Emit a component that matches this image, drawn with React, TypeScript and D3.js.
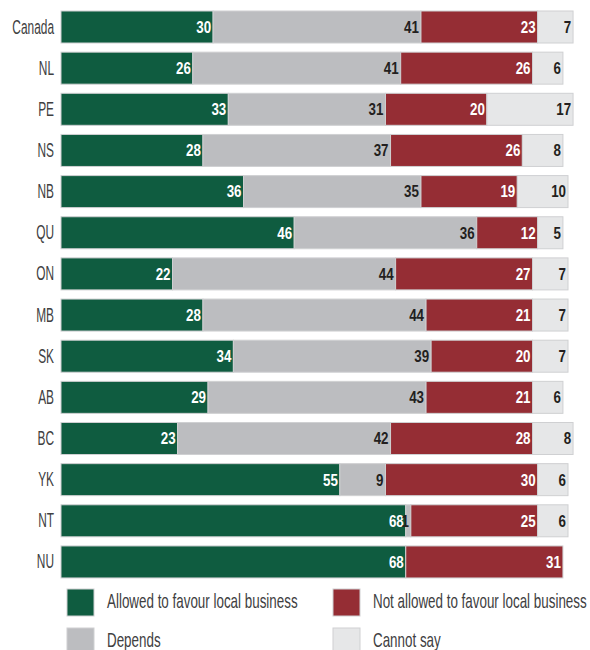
import React, { useEffect } from "react";
import * as d3 from "d3";

const categories = ["Canada", "NL", "PE", "NS", "NB", "QU", "ON", "MB", "SK", "AB", "BC", "YK", "NT", "NU"];
const allowed = [30, 26, 33, 28, 36, 46, 22, 28, 34, 29, 23, 55, 68, 68];
const depends = [41, 41, 31, 37, 35, 36, 44, 44, 39, 43, 42, 9, 1, 0];
const notAllowed = [23, 26, 20, 26, 19, 12, 27, 21, 20, 21, 28, 30, 25, 31];
const cannotSay = [7, 6, 17, 8, 10, 5, 7, 7, 7, 6, 8, 6, 6, 0];
const seriesNames = ["Allowed to favour local business", "Depends", "Not allowed to favour local business", "Cannot say"];

const colors = ["#0f5c40", "#bcbdc0", "#952d34", "#e6e7e8"];
const labelColors = ["#ffffff", "#231f20", "#ffffff", "#231f20"];
const FONT = "'Liberation Sans', Arial, sans-serif";

function T(props: { x: number; y: number; sx: number; size: number; anchor?: string; weight?: string; fill: string; children: React.ReactNode }) {
  return (
    <g transform={`translate(${props.x},${props.y}) scale(${props.sx},1)`}>
      <text x={0} y={0} dy="0.36em" textAnchor={props.anchor || "start"} fontSize={props.size} fontWeight={props.weight || "normal"} fill={props.fill}>
        {props.children}
      </text>
    </g>
  );
}

export default function App() {
  useEffect(() => {
    document.body.style.margin = "0";
  }, []);
  const W = 590, H = 650;
  const x = d3.scaleLinear().domain([0, 100]).range([61, 61 + 507]);
  const step = 41.15;
  const pad = 9.15 / step;
  const r0 = 11 - (pad / 2) * step;
  const y = d3.scaleBand<string>().domain(categories).range([r0, r0 + step * categories.length]).paddingInner(pad).paddingOuter(pad / 2);
  const series = [allowed, depends, notAllowed, cannotSay];
  const rows = categories.map((c, i) => {
    let acc = 0;
    return series.map((s, k) => {
      const v = s[i];
      const seg = { k, v, x0: acc, x1: acc + v };
      acc += v;
      return seg;
    });
  });
  const bh = y.bandwidth();
  const legend = [
    { k: 0, lx: 67, ly: 589 },
    { k: 2, lx: 333, ly: 589 },
    { k: 1, lx: 67, ly: 628 },
    { k: 3, lx: 333, ly: 628 },
  ];
  return (
    <svg width={W} height={H} style={{ display: "block", background: "#fff" }} fontFamily={FONT}>
      {categories.map((c, i) => (
        <g key={c}>
          <T x={54} y={(y(c) as number) + bh / 2 - 0.5} sx={0.61} size={19.5} anchor="end" fill="#404041">{c}</T>
          {rows[i].filter(s => s.v > 0).map(s => (
            <rect key={s.k} x={x(s.x0)} y={y(c)} width={x(s.x1) - x(s.x0)} height={bh} fill={colors[s.k]} stroke="#cfd0d2" strokeWidth={1} />
          ))}
          {rows[i].filter(s => s.v > 0).map(s => (
            <T key={"t" + s.k} x={x(s.x1) - 2} y={(y(c) as number) + bh / 2} sx={0.82} size={16.3} anchor="end" weight="bold" fill={labelColors[s.k]}>{s.v}</T>
          ))}
        </g>
      ))}
      {legend.map(l => (
        <g key={l.k}>
          <rect x={l.lx} y={l.ly} width={27} height={27} fill={colors[l.k]} stroke="#cfd0d2" strokeWidth={1} />
          <T x={l.lx + 40} y={l.ly + 11.5} sx={0.67} size={20} fill="#404041">{seriesNames[l.k]}</T>
        </g>
      ))}
    </svg>
  );
}
